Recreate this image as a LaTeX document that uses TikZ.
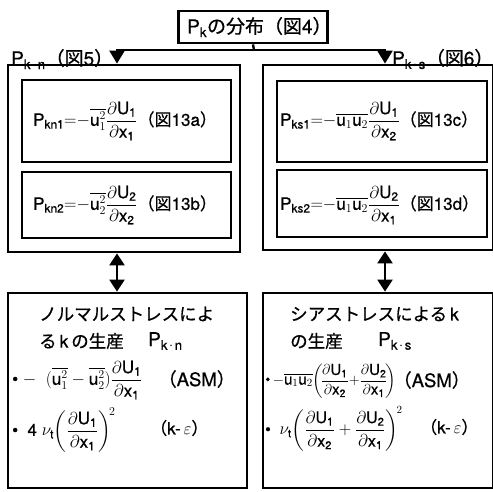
\documentclass[tikz,border=0pt]{standalone}
\usepackage{amsmath}
\usepackage{fontspec}
\setmainfont{TeX Gyre Heros}[FakeBold=0.7]
\newfontfamily\jp{Noto Sans CJK JP}[FakeBold=0.7]
\usetikzlibrary{arrows.meta}
\newcommand{\rr}[1]{\mathrm{#1}}
\newcommand{\pd}[2]{\displaystyle\frac{\partial\rr{#1}}{\partial\rr{#2}}}
\newcommand{\kdot}[1]{\rr{k}\mkern2mu{\cdot}\mkern2mu\rr{#1}}
\tikzset{
  bigbox/.style={draw, line width=2.8pt, inner sep=0pt},
  smallbox/.style={draw, line width=1.6pt, inner sep=0pt},
  arr/.style={line width=2.4pt, -{Triangle[width=15pt,length=13pt]}},
  darr/.style={line width=2.4pt, {Triangle[width=15pt,length=12pt]}-{Triangle[width=15pt,length=12pt]}},
  lab/.style={anchor=west, inner sep=0pt, font=\fontsize{19}{22}\selectfont},
  jtxt/.style={anchor=west, inner sep=0pt, font=\fontsize{17.5}{21}\selectfont\jp},
  fml/.style={anchor=west, inner sep=0pt, font=\fontsize{17}{20}\selectfont},
  asm/.style={anchor=west, inner sep=0pt, font=\fontsize{18.5}{21}\selectfont},
}
\begin{document}
\begin{tikzpicture}[x=1pt,y=-1pt]
\useasboundingbox (0,0) rectangle (493,491);
% top box
\node[bigbox, minimum width=149pt, minimum height=32pt] (top) at (253,27) {};
\node[lab] (toptxt) at (187,27) {$\rr{P}_{\rr{k}}$\jp の分布（図\rmfamily 4\jp ）};
% outer boxes
\node[bigbox, minimum width=232pt, minimum height=187pt] (L) at (124,158.5) {};
\node[bigbox, minimum width=230pt, minimum height=185pt] (R) at (378,157.5) {};
\node[smallbox, minimum width=209pt, minimum height=82pt] (L1) at (126.5,121) {};
\node[smallbox, minimum width=209pt, minimum height=66pt] (L2) at (126.5,205) {};
\node[smallbox, minimum width=210pt, minimum height=81pt] (R1) at (382,121.5) {};
\node[smallbox, minimum width=210pt, minimum height=67pt] (R2) at (382,203.5) {};
% lower boxes
\node[bigbox, minimum width=239pt, minimum height=195pt] (LL) at (127.5,390.5) {};
\node[bigbox, minimum width=230pt, minimum height=195pt] (RR) at (378,390.5) {};
% connectors
\coordinate (j) at (254,50);
\coordinate (jl) at (117,50);
\coordinate (jr) at (385,50);
\draw[line width=2.4pt] (top.south) -- (j);
\draw[line width=2.4pt] ([xshift=-1.2pt]jl) -- ([xshift=1.2pt]jr);
\draw[arr] (jl) -- (jl |- L.north);
\draw[arr] (jr) -- (jr |- R.north);
\draw[darr] (jl |- L.south) -- (jl |- LL.north);
\draw[darr] (jr |- R.south) -- (jr |- RR.north);
% labels on arrows
\node[lab] (ln) at (11,59) {$\rr{P}_{\kdot{n}}$\jp（図\rmfamily 5\jp ）};
\node[lab] (ls) at (392,59) {$\rr{P}_{\kdot{s}}$\jp（図\rmfamily 6\jp ）};
% formulas in inner boxes
\node[fml] (f1) at (33,121) {$\rr{P}_{\rr{kn1}}{=}{-}\overline{\rr{u}_1^2}\pd{U_1}{x_1}$\jp（図\rmfamily 13a\jp ）};
\node[fml] (f2) at (33,205) {$\rr{P}_{\rr{kn2}}{=}{-}\overline{\rr{u}_2^2}\pd{U_2}{x_2}$\jp（図\rmfamily 13b\jp ）};
\node[fml] (f3) at (280,121) {$\rr{P}_{\rr{ks1}}{=}{-}\overline{\rr{u}_1\rr{u}_2}\pd{U_1}{x_2}$\jp（図\rmfamily 13c\jp ）};
\node[fml] (f4) at (280,205) {$\rr{P}_{\rr{ks2}}{=}{-}\overline{\rr{u}_1\rr{u}_2}\pd{U_2}{x_1}$\jp（図\rmfamily 13d\jp ）};
% lower left text
\node[jtxt] (t1) at (39,314) {ノルマルストレスによ};
\node[jtxt] (t2) at (39,341) {る\rmfamily\,k\,\jp の生産};
\node[lab] (t3) at (148,341) {$\rr{P}_{\kdot{n}}$};
\node[fml] (e1) at (12,380) {\textbullet\ $-\ \ (\overline{\rr{u}_1^2}-\overline{\rr{u}_2^2})\pd{U_1}{x_1}$};
\node[asm] (a1) at (158,379) {\jp（\rmfamily ASM\jp ）};
\node[fml] (e2) at (12,430) {\textbullet\ \ 4 $\nu_{\rr{t}}\!\left(\pd{U_1}{x_1}\right)^{\!2}$};
\node[fml] (a2) at (150,428) {\jp（\rmfamily k-\,$\varepsilon$\jp ）};
% lower right text
\node[jtxt] (t4) at (290,314) {シアストレスによる\rmfamily\,k};
\node[jtxt] (t5) at (290,341) {の生産};
\node[lab] (t6) at (378,341) {$\rr{P}_{\kdot{s}}$};
\node[fml, font=\fontsize{15}{18}\selectfont] (e3) at (265,381) {\textbullet\,$-\overline{\rr{u}_1\rr{u}_2}\!\left(\!\pd{U_1}{x_2}{+}\pd{U_2}{x_1}\!\right)$};
\node[asm] (a3) at (393,380) {\jp（\rmfamily ASM\jp ）};
\node[fml, font=\fontsize{16}{19}\selectfont] (e4) at (265,429) {\textbullet\ \ $\nu_{\rr{t}}\!\left(\pd{U_1}{x_2}+\pd{U_2}{x_1}\right)^{\!2}$};
\node[fml] (a4) at (420,427) {\jp（\rmfamily k-\,$\varepsilon$\jp ）};
\end{tikzpicture}
\end{document}
